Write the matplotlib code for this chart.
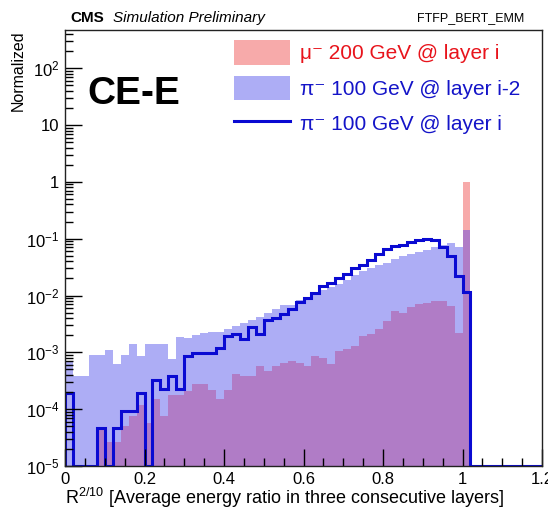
import numpy as np
import matplotlib.pyplot as plt
from matplotlib.patches import Patch
from matplotlib.lines import Line2D
from matplotlib.ticker import MultipleLocator, LogLocator, FuncFormatter, NullFormatter

plt.rcParams['font.family'] = ['Liberation Sans', 'DejaVu Sans']
plt.rcParams['mathtext.fontset'] = 'custom'
plt.rcParams['mathtext.rm'] = 'Liberation Sans'
plt.rcParams['mathtext.it'] = 'Liberation Sans:italic'

# 60 bins of width 0.02 between 0 and 1.2
bin_edges = np.linspace(0.0, 1.2, 61)

# mu- 200 GeV @ layer i
mu200_layer_i = [
    0, 0, 0, 0, 4.6e-5, 2.6e-5, 2.6e-5, 5.0e-5, 7.6e-5, 1.2e-4,
    5.8e-5, 1.5e-4, 7.6e-5, 1.8e-4, 1.8e-4, 2.1e-4, 2.8e-4, 2.8e-4, 2.2e-4, 1.5e-4,
    2.2e-4, 4.1e-4, 3.8e-4, 3.8e-4, 5.8e-4, 4.7e-4, 5.8e-4, 6.6e-4, 7.1e-4, 6.6e-4,
    5.8e-4, 8.7e-4, 8.1e-4, 6.2e-4, 1.05e-3, 1.13e-3, 1.3e-3, 1.94e-3, 2.1e-3, 2.6e-3,
    3.6e-3, 5.4e-3, 5.0e-3, 6.2e-3, 7.0e-3, 7.5e-3, 8.0e-3, 8.0e-3, 6.5e-3, 2.2e-3,
    0.98, 0, 0, 0, 0, 0, 0, 0, 0, 0,
]

# pi- 100 GeV @ layer i-2
pi100_layer_i2 = [
    7.1e-4, 3.8e-4, 3.8e-4, 8.9e-4, 8.9e-4, 1.1e-3, 6.2e-4, 8.9e-4, 1.4e-3, 8.7e-4,
    1.4e-3, 1.4e-3, 1.4e-3, 7.6e-4, 1.9e-3, 1.8e-3, 2.0e-3, 2.2e-3, 2.3e-3, 2.3e-3,
    2.6e-3, 2.9e-3, 3.3e-3, 3.7e-3, 4.2e-3, 5.0e-3, 5.8e-3, 6.9e-3, 6.9e-3, 8.3e-3,
    8.9e-3, 1.07e-2, 1.23e-2, 1.42e-2, 1.6e-2, 1.85e-2, 2.3e-2, 2.7e-2, 3.0e-2, 3.4e-2,
    3.8e-2, 4.4e-2, 5.0e-2, 5.4e-2, 5.8e-2, 6.2e-2, 7.1e-2, 7.7e-2, 8.5e-2, 7.1e-2,
    0.14, 0, 0, 0, 0, 0, 0, 0, 0, 0,
]

# pi- 100 GeV @ layer i
pi100_layer_i = [
    1.9e-4, 0, 0, 0, 4.6e-5, 0, 4.6e-5, 9.3e-5, 9.3e-5, 1.9e-4,
    0, 3.2e-4, 2.3e-4, 3.8e-4, 2.3e-4, 8.7e-4, 9.6e-4, 9.6e-4, 9.6e-4, 1.17e-3,
    1.94e-3, 2.1e-3, 1.74e-3, 2.77e-3, 2.1e-3, 3.76e-3, 4.1e-3, 4.7e-3, 5.7e-3, 7.6e-3,
    9.0e-3, 1.12e-2, 1.48e-2, 1.67e-2, 2.0e-2, 2.35e-2, 3.0e-2, 3.5e-2, 4.3e-2, 5.3e-2,
    6.6e-2, 7.5e-2, 7.9e-2, 8.7e-2, 9.3e-2, 9.7e-2, 9.3e-2, 7.2e-2, 4.9e-2, 2.2e-2,
    1.15e-2, 0, 0, 0, 0, 0, 0, 0, 0, 0,
]

y_min, y_max = 1e-5, 470

c_pink = '#f7aaaa'
c_lblue = '#adadf5'
c_purple = '#b07cc6'
c_line = '#0a0ad2'

mu = np.array(mu200_layer_i)
pi2 = np.array(pi100_layer_i2)
pi0 = np.array(pi100_layer_i)
floor = 1e-6

fig = plt.figure(figsize=(5.48, 5.12), dpi=100)
ax = fig.add_axes([65 / 548, 1 - 466 / 512, (542 - 65) / 548, (466 - 30) / 512])
ax.set_yscale('log')

ax.stairs(np.where(pi2 > 0, pi2, floor), bin_edges, fill=True, baseline=floor,
          color=c_lblue, lw=0)
ax.stairs(np.where(mu > 0, mu, floor), bin_edges, fill=True, baseline=floor,
          color=c_pink, lw=0)
overlap = np.minimum(mu, pi2)
ax.stairs(np.where(overlap > 0, overlap, floor), bin_edges, fill=True, baseline=floor,
          color=c_purple, lw=0)
ax.stairs(np.where(pi0 > 0, pi0, y_min), bin_edges, baseline=y_min,
          color=c_line, lw=2.2)

ax.set_xlim(0, 1.2)
ax.set_ylim(y_min, y_max)

ax.xaxis.set_major_locator(MultipleLocator(0.2))
ax.xaxis.set_minor_locator(MultipleLocator(0.05))
ax.xaxis.set_major_formatter(FuncFormatter(lambda v, p: '%g' % round(v, 2)))
ax.yaxis.set_major_locator(LogLocator(base=10, numticks=20))
ax.yaxis.set_minor_locator(LogLocator(base=10, subs=np.arange(2, 10), numticks=20))
ax.yaxis.set_minor_formatter(NullFormatter())


def ylab(v, p):
    e = int(round(np.log10(v)))
    if e == 0:
        return '1'
    if e == 1:
        return '10'
    return r'$10^{%d}$' % e


ax.yaxis.set_major_formatter(FuncFormatter(ylab))
ax.tick_params(which='both', direction='in', top=False, right=False, labelsize=12)
ax.tick_params(which='major', length=12, width=1)
ax.tick_params(which='minor', length=6, width=1)
ax.tick_params(axis='x', pad=4)
ax.tick_params(axis='y', pad=4)
for s in ax.spines.values():
    s.set_linewidth(1.0)
    s.set_color('#222222')

fig.text(70 / 548, 1 - 18 / 512, 'CMS', fontsize=11, weight='bold', va='center')
fig.text(113 / 548, 1 - 18 / 512, 'Simulation Preliminary', fontsize=11,
         style='italic', va='center')
fig.text(524 / 548, 1 - 18 / 512, 'FTFP_BERT_EMM', fontsize=9, ha='right', va='center')
fig.text(87 / 548, 1 - 94 / 512, 'CE-E', fontsize=28, weight='bold', va='center')

fig.text(65 / 548, 1 - 504 / 512,
         r'R$^{\mathrm{2/10}}$ [Average energy ratio in three consecutive layers]',
         fontsize=13, va='baseline', ha='left')
fig.text(18 / 548, 1 - 30 / 512, 'Normalized', fontsize=11.5, rotation=90,
         ha='center', va='top')

handles = [
    Patch(facecolor=c_pink, edgecolor='none'),
    Patch(facecolor=c_lblue, edgecolor='none'),
    Line2D([], [], color=c_line, lw=2.2),
]
labels = ['μ⁻ 200 GeV @ layer i', 'π⁻ 100 GeV @ layer i-2', 'π⁻ 100 GeV @ layer i']
fig.legend(handles, labels, loc='upper left', bbox_to_anchor=(234 / 548, 1 - 40 / 512),
           frameon=False, fontsize=15, handlelength=2.7, handleheight=1.44,
           labelspacing=0.53, handletextpad=0.48, borderpad=0, borderaxespad=0,
           labelcolor=['#e8141c', '#1414c8', '#1414c8'])

fig.savefig('out.png', dpi=100)
